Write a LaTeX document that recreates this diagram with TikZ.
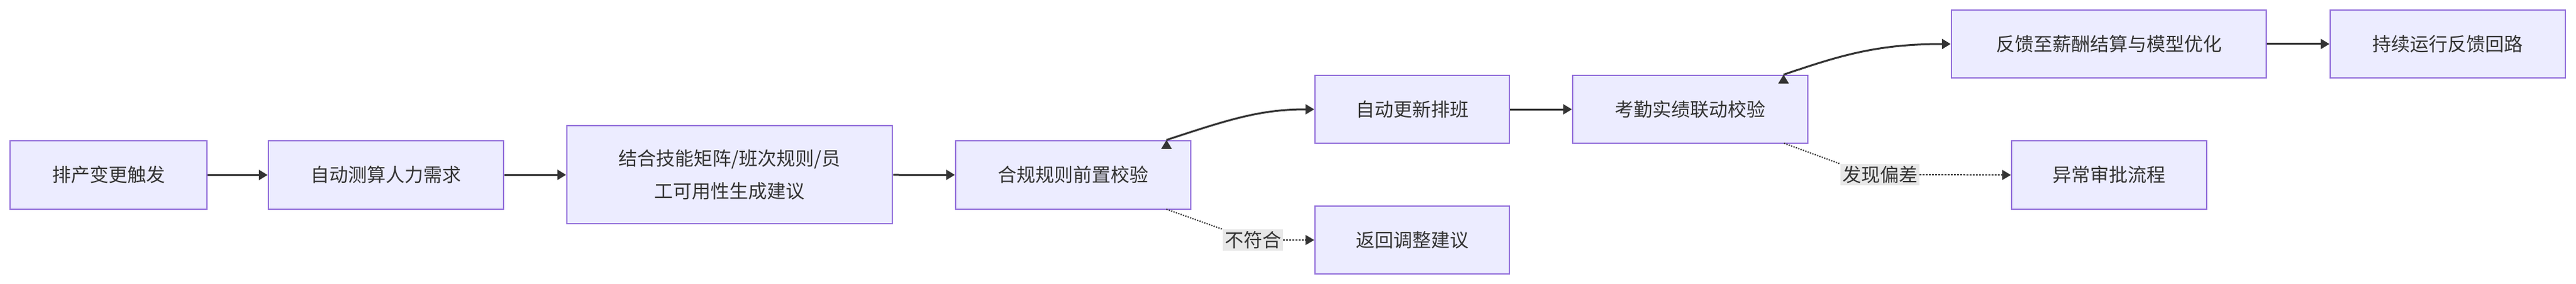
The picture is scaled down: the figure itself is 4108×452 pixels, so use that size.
\documentclass[tikz,border=0pt]{standalone}
\usepackage{fontspec}
\setmainfont{Noto Sans CJK SC}
\usetikzlibrary{arrows.meta}
\definecolor{bfill}{HTML}{ECECFF}
\definecolor{bdraw}{HTML}{9370DB}
\definecolor{ln}{HTML}{333333}
\definecolor{lbg}{HTML}{E8E8E8}
\tikzset{
  x=1pt,y=-1pt,
  box/.style={draw=bdraw,fill=bfill,line width=2.5pt,inner sep=0pt,align=center,font=\fontsize{30}{52}\selectfont,text=ln},
  edge/.style={draw=ln,line width=3pt,-{Triangle[length=14pt,width=16pt]}},
  dedge/.style={edge,dotted},
  lbl/.style={fill=lbg,inner sep=3pt,font=\fontsize{30}{36}\selectfont,text=ln},
}
\newcommand{\bx}[6]{\node[box,minimum width={#4-#2},minimum height={#5-#3}] (#1) at ({(#2+#4)/2},{(#3+#5)/2}) {#6};}
\begin{document}
\begin{tikzpicture}
\useasboundingbox (0,0) rectangle (4108,452);
\bx{A}{16}{224}{330}{333}{排产变更触发}
\bx{B}{428}{224}{803}{333}{自动测算人力需求}
\bx{C}{904}{200}{1423}{356}{结合技能矩阵/班次规则/员\\工可用性生成建议}
\bx{D}{1524}{224}{1899}{333}{合规规则前置校验}
\bx{E}{2097}{120}{2407}{228}{自动更新排班}
\bx{F}{2508}{120}{2883}{228}{考勤实绩联动校验}
\bx{G}{3112}{16}{3614}{124}{反馈至薪酬结算与模型优化}
\bx{H}{3716}{16}{4091}{124}{持续运行反馈回路}
\bx{I}{3208}{224}{3519}{333}{异常审批流程}
\bx{J}{2097}{328}{2407}{436}{返回调整建议}
\node[lbl] (L1) at (1998,382) {不符合};
\node[lbl] (L2) at (2998,278) {发现偏差};
\draw[edge] (A) -- (B);
\draw[edge] (B) -- (C);
\draw[edge] (C) -- (D);
\draw[edge] (E) -- (F);
\draw[edge] (G) -- (H);
\draw[edge] (D.north east)++(-40,0) coordinate (d1);
\draw[edge] (d1) .. controls (1960,190) and (2010,174) .. (E.west);
\draw[edge] (F.north east)++(-40,0) coordinate (f1);
\draw[edge] (f1) .. controls (2930,90) and (2990,70) .. (G.west);
\coordinate (d2) at (1860,333);
\draw[ln,line width=2pt,dotted] (d2) -- (L1.north west);
\draw[dedge,line width=2pt] (L1.east) -- (J.west);
\coordinate (f2) at (2845,228);
\draw[ln,line width=2pt,dotted] (f2) -- (L2.north west);
\draw[dedge,line width=2pt] (L2.east) -- (I.west);
\end{tikzpicture}
\end{document}
